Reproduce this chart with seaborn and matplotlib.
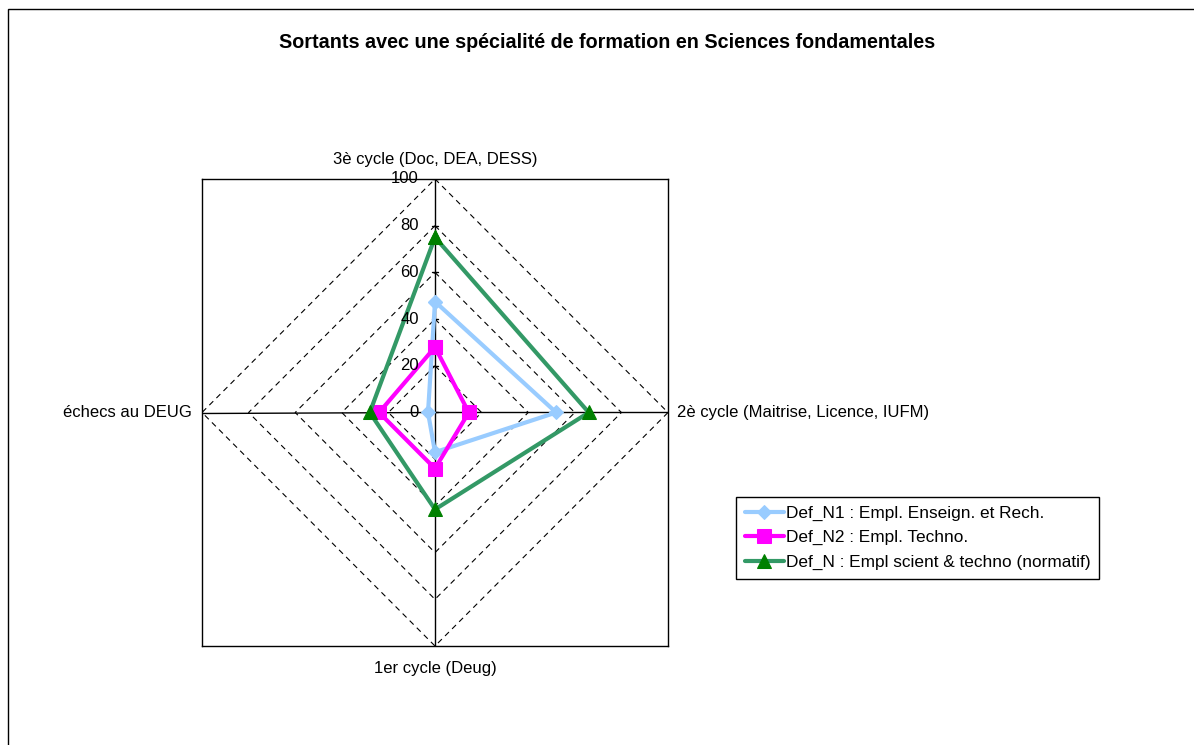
#! /usr/bin/env python3
import numpy as np
import pandas as pd
import seaborn as sns
import matplotlib
matplotlib.use("Agg")
import matplotlib.pyplot as plt
from matplotlib import patches as mpatches

# categories, clockwise from the top
CATEGORIES = ["3è cycle (Doc, DEA, DESS)",
              "2è cycle (Maitrise, Licence, IUFM)",
              "1er cycle (Deug)",
              "échecs au DEUG"]

# series values (percent)
DEF_N1 = [47.5, 52, 17, 3]
DEF_N2 = [28, 14.5, 24, 24]
DEF_N = [75, 66, 41.5, 28]

SERIES_NAMES = ["Def_N1 : Empl. Enseign. et Rech.",
                "Def_N2 : Empl. Techno.",
                "Def_N : Empl scient & techno (normatif)"]

GRID_LEVELS = [20, 40, 60, 80, 100]
TICK_LABELS = ["0", "20", "40", "60", "80", "100"]

TITLE = "Sortants avec une spécialité de formation en Sciences fondamentales"


def to_xy(values, angles):
    # close the polygon by repeating the first point
    v = np.array(list(values) + [values[0]], dtype=float)
    a = np.array(list(angles) + [angles[0]])
    return v * np.cos(a), v * np.sin(a)


def main():
    sns.set_style("white")
    plt.rcParams['font.family'] = ['Liberation Sans', 'DejaVu Sans']
    plt.rcParams['text.color'] = 'black'

    f = plt.figure(figsize=(11.94, 7.45), dpi=100)
    ax = f.add_axes([202 / 1194, 1 - 646 / 745, 466 / 1194, 467 / 745])
    ax.set_xlim(-100, 100)
    ax.set_ylim(-100, 100)
    ax.set_xticks([])
    ax.set_yticks([])
    for s in ax.spines.values():
        s.set_color("black")
        s.set_linewidth(1.0)

    # angles: top, right, bottom, left
    angles = np.pi / 2 - np.arange(len(CATEGORIES)) * np.pi / 2

    # dashed diamond grid
    for lvl in GRID_LEVELS:
        gx, gy = to_xy([lvl] * len(CATEGORIES), angles)
        ax.plot(gx, gy, color="black", lw=0.8, ls=(0, (5, 4)), zorder=1)

    # spokes
    for a in angles:
        ax.plot([0, 100 * np.cos(a)], [0, 100 * np.sin(a)], color="black", lw=1.0, zorder=1)

    # value axis ticks and labels
    for lab in TICK_LABELS:
        v = int(lab)
        ax.plot([-1.5, 1.5], [v, v], color="black", lw=1.0, zorder=1)
        ax.text(-6.9, v, lab, ha="right", va="center", fontsize=12, color="black", zorder=5)

    # category labels
    kw = dict(fontsize=12, color="black", clip_on=False)
    ax.text(0, 108.5, CATEGORIES[0], ha="center", va="center", **kw)
    ax.text(103.8, 0, CATEGORIES[1], ha="left", va="center", **kw)
    ax.text(0, -109.7, CATEGORIES[2], ha="center", va="center", **kw)
    ax.text(-104.3, 0, CATEGORIES[3], ha="right", va="center", **kw)

    styles = [
        dict(color="#99CCFF", marker="D", markersize=7, markerfacecolor="#99CCFF", markeredgecolor="#99CCFF"),
        dict(color="#FF00FF", marker="s", markersize=10, markerfacecolor="#FF00FF", markeredgecolor="#FF00FF"),
        dict(color="#339966", marker="^", markersize=10, markerfacecolor="#008000", markeredgecolor="#008000"),
    ]
    for vals, name, st in zip([DEF_N1, DEF_N2, DEF_N], SERIES_NAMES, styles):
        x, y = to_xy(vals, angles)
        df = pd.DataFrame({'x': x, 'y': y})
        sns.lineplot(x='x', y='y', data=df, sort=False, estimator=None, ax=ax,
                     lw=3, label=name, zorder=3, **st)
    ax.set(xlabel='', ylabel='')

    leg = ax.legend(loc="upper left", bbox_to_anchor=(736 / 1194, 1 - 497 / 745),
                    bbox_transform=f.transFigure, fontsize=12.4, frameon=True,
                    fancybox=False, edgecolor="black", framealpha=1,
                    handlelength=2.3, handletextpad=0.1, borderpad=0.5,
                    labelspacing=0.55, borderaxespad=0)
    leg.get_frame().set_linewidth(1.0)
    for t in leg.get_texts():
        t.set_color("black")

    f.text(607 / 1194, 1 - 42 / 745, TITLE, ha="center", va="center",
           fontsize=14.2, fontweight="bold", color="black")

    # outer chart frame (top and left edges visible)
    f.add_artist(mpatches.Rectangle((8 / 1194, -0.05), 1.2, 1 - 9 / 745 + 0.05,
                                    transform=f.transFigure, fill=False,
                                    edgecolor="black", lw=1.0))

    f.savefig("out.png", dpi=100)


if __name__ == "__main__":
    main()
